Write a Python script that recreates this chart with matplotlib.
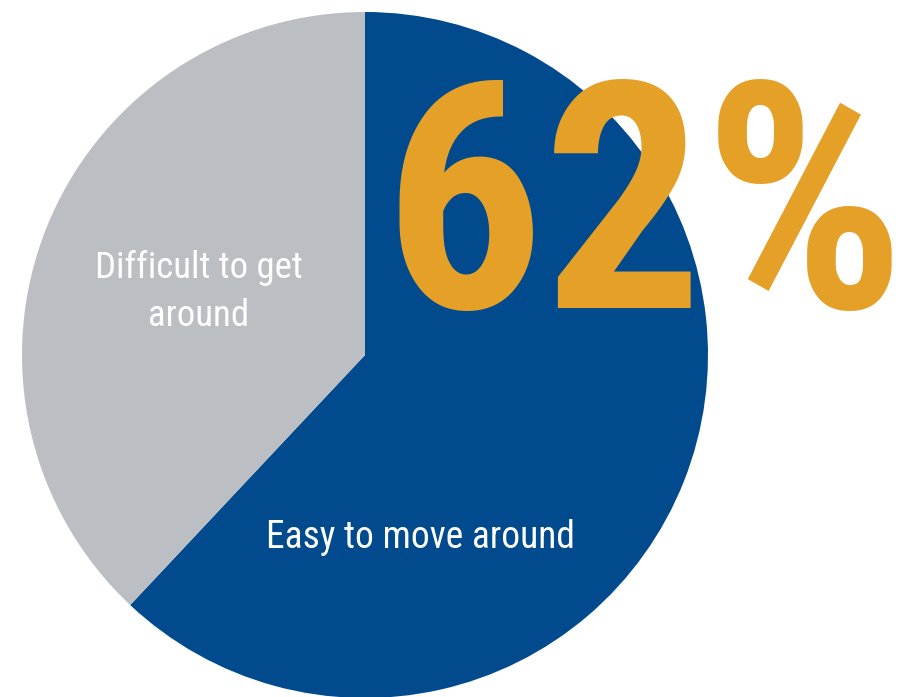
import matplotlib.pyplot as plt

labels = ["Easy to move around", "Difficult to get\naround"]
shares = [62, 38]
colors = ["#004A8D", "#BBBFC4"]
headline = "62%"

W, H = 915, 697

fig = plt.figure(figsize=(W / 100, H / 100), dpi=100)
ax = fig.add_axes([0, 0, 1, 1])

# pie in pixel-like coordinates, y measured upwards
ax.pie(shares, colors=colors, startangle=90, counterclock=False,
       center=(365, H - 355), radius=343, frame=True,
       wedgeprops=dict(linewidth=0))
ax.set_xlim(0, W)
ax.set_ylim(0, H)
ax.set_aspect("equal")
ax.axis("off")

ax.text(420, H - 548, labels[0], color="white", fontsize=27,
        family="Roboto Condensed", ha="center", va="baseline")
ax.text(199, H - 292, labels[1], color="white", fontsize=26.5,
        family="Roboto Condensed", ha="center", va="center", linespacing=1.42)

ax.text(645, H - 308, headline, color="#E5A028", fontsize=228,
        family="Roboto Condensed", fontweight="bold", ha="center", va="baseline")

fig.savefig("out.png", dpi=100)
